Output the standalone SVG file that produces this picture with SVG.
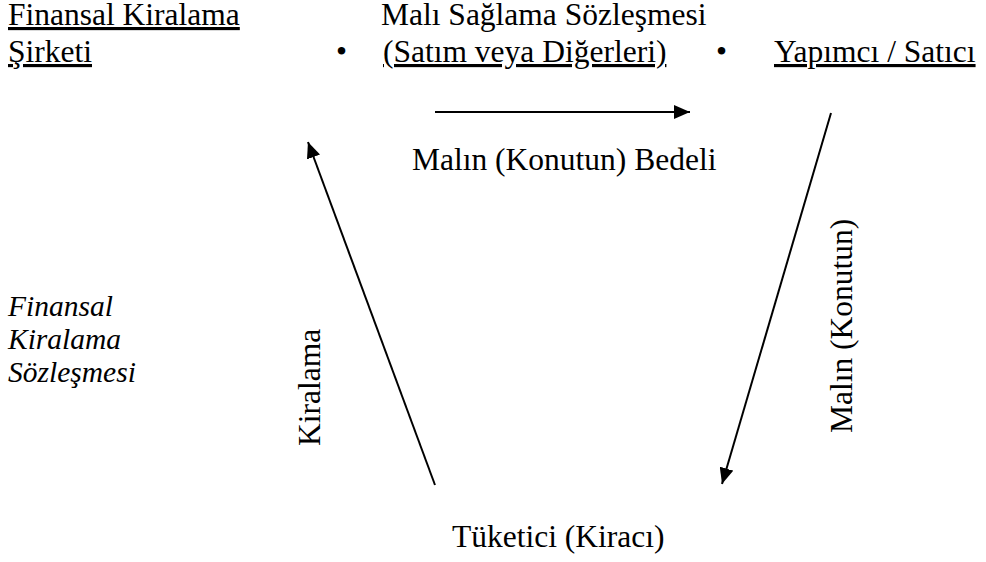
<svg xmlns="http://www.w3.org/2000/svg" width="986" height="562" viewBox="0 0 986 562">
<style>
text{font-family:'Liberation Serif','Times New Roman',serif;font-size:31.5px;fill:#000}
.u{text-decoration:underline}
.it{font-style:italic;font-size:29.5px}
.c{stroke:#000;stroke-width:2;fill:none}
</style>
<defs>
<marker id="ah" viewBox="0 0 16 14" refX="16" refY="7" markerWidth="16" markerHeight="14" markerUnits="userSpaceOnUse" orient="auto">
<path d="M0,0 L16,7 L0,14 Z" fill="#000"/>
</marker>
</defs>
<rect width="986" height="562" fill="#fff"/>
<g id="lessor">
<text class="u" x="8" y="25">Finansal Kiralama</text>
<text class="u" x="8" y="62">Şirketi</text>
</g>
<g id="supply-contract">
<text x="381" y="25">Malı Sağlama Sözleşmesi</text>
<text x="336" y="62">•</text>
<text class="u" x="383" y="62">(Satım veya Diğerleri)</text>
<text x="716" y="62">•</text>
</g>
<g id="supplier">
<text class="u" x="774" y="62">Yapımcı / Satıcı</text>
</g>
<g id="lease-contract">
<text class="it" x="8" y="316">Finansal</text>
<text class="it" x="8" y="349">Kiralama</text>
<text class="it" x="8" y="382">Sözleşmesi</text>
</g>
<g id="consumer">
<text x="452" y="547">Tüketici (Kiracı)</text>
</g>
<g id="connectors">
<line class="c" x1="435" y1="112" x2="690" y2="112" marker-end="url(#ah)"/>
<line class="c" x1="435" y1="485" x2="308" y2="142" marker-end="url(#ah)"/>
<line class="c" x1="831" y1="113" x2="722" y2="484" marker-end="url(#ah)"/>
<text x="412" y="170">Malın (Konutun) Bedeli</text>
<text transform="translate(320,446) rotate(-90)">Kiralama</text>
<text transform="translate(852,433) rotate(-90)">Malın (Konutun)</text>
</g>
</svg>
